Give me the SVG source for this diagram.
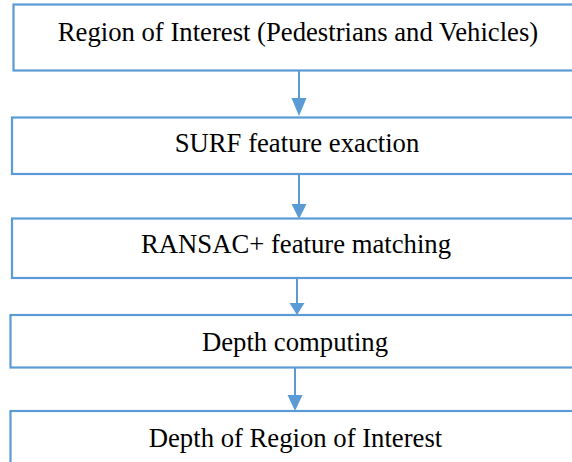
<svg xmlns="http://www.w3.org/2000/svg" width="572" height="462" viewBox="0 0 572 462">
<defs>
<style>
.box{fill:#ffffff;stroke:#5B9BD5;stroke-width:2.2}
.lbl{font-family:"Liberation Serif","Times New Roman",serif;font-size:26.7px;fill:#000;text-anchor:middle}
.conn{stroke:#5B9BD5;stroke-width:2;fill:none}
.head{fill:#5B9BD5}
</style>
</defs>
<rect width="572" height="462" fill="#ffffff"/>
<g id="connectors">
<line class="conn" x1="299" y1="70" x2="299" y2="100"/>
<polygon class="head" points="291.5,98 306.5,98 299,116"/>
<line class="conn" x1="299" y1="174" x2="299" y2="206"/>
<polygon class="head" points="291.5,204 306.5,204 299,219"/>
<line class="conn" x1="297" y1="275" x2="297" y2="305"/>
<polygon class="head" points="289.5,303 304.5,303 297,315"/>
<line class="conn" x1="295" y1="367" x2="295" y2="397"/>
<polygon class="head" points="287.5,395 302.5,395 295,411"/>
</g>
<g id="node1">
<rect class="box" x="13.5" y="4.5" width="580" height="66"/>
<text class="lbl" x="298" y="41">Region of Interest (Pedestrians and Vehicles)</text>
</g>
<g id="node2">
<rect class="box" x="12" y="117.5" width="580" height="56.5"/>
<text class="lbl" x="297" y="152">SURF feature exaction</text>
</g>
<g id="node3">
<rect class="box" x="12" y="218.5" width="580" height="59.5"/>
<text class="lbl" x="296" y="253">RANSAC+ feature matching</text>
</g>
<g id="node4">
<rect class="box" x="10.5" y="315" width="580" height="52.5"/>
<text class="lbl" x="295" y="351">Depth computing</text>
</g>
<g id="node5">
<rect class="box" x="10.5" y="411" width="580" height="70"/>
<text class="lbl" x="295.5" y="447">Depth of Region of Interest</text>
</g>
</svg>
